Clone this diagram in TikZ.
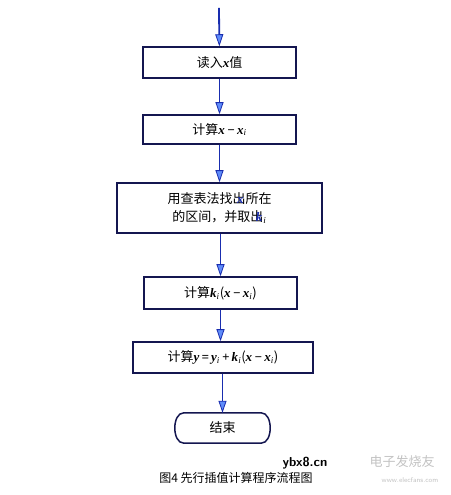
\documentclass[tikz,border=0pt]{standalone}
\usepackage{fontspec}
\usepackage{xcolor}
\setmainfont{Liberation Serif}
\newfontfamily\cjk{Noto Sans CJK SC}
\usetikzlibrary{arrows.meta}

\definecolor{lineColor}{RGB}{20,22,80}
\definecolor{arrowColor}{RGB}{25,45,175}
\definecolor{headColor}{RGB}{95,140,250}
\definecolor{markColor}{RGB}{195,195,195}

\newcommand{\bv}[1]{{\rmfamily\bfseries\itshape #1}}
\newcommand{\sbi}{\textsubscript{\rmfamily\itshape i}}

\begin{document}
\begin{tikzpicture}[x=1pt,y=1pt,
  box/.style={draw=lineColor,line width=1.5pt,inner sep=0pt,
    minimum height=31pt,align=center,font=\cjk\fontsize{13}{18}\selectfont},
  flow/.style={draw=arrowColor,line width=1.8pt,
    -{Triangle[length=12pt,width=8pt,fill=headColor,line width=0.8pt]}},
  ]
\path[use as bounding box,fill=white] (0,0) rectangle (450,495);

% steps
\coordinate (start) at (219,487);
\node[box,minimum width=153pt] (read) at (219.5,432.5) {读入\bv{x}值};
\node[box,minimum width=153pt,minimum height=29pt] (diff) at (219.5,365.5)
  {计算\bv{x}\,\bv{−}\,\bv{x}\sbi};
\node[box,minimum width=205pt,minimum height=50pt] (look) at (219.5,287)
  {用查表法找出\llap{\textcolor{arrowColor}{\bv{x}}\hspace{2pt}}所在\\
   的区间，并取出\llap{\textcolor{arrowColor}{\bv{k}}\hspace{1pt}}\sbi};
\node[box,minimum width=153pt,minimum height=32pt] (prod) at (220.5,202)
  {计算\bv{k}\sbi(\bv{x}\,\bv{−}\,\bv{x}\sbi)};
\node[box,minimum width=180pt] (sum) at (223,137.5)
  {计算\bv{y}\,\bv{=}\,\bv{y}\sbi\,\bv{+}\,\bv{k}\sbi(\bv{x}\,\bv{−}\,\bv{x}\sbi)};
\node[inner sep=0pt,minimum width=95pt,minimum height=30pt,
  font=\cjk\fontsize{13}{14}\selectfont] (stop) at (222.5,67) {结束};
\draw[lineColor,line width=1.5pt]
  ([xshift=9pt]stop.north west) -- ([xshift=-9pt]stop.north east)
  .. controls ([xshift=3pt]stop.north east) and ([xshift=3pt]stop.south east) ..
  ([xshift=-9pt]stop.south east) -- ([xshift=9pt]stop.south west)
  .. controls ([xshift=-3pt]stop.south west) and ([xshift=-3pt]stop.north west) ..
  cycle;

% connectors
\draw[flow] (start) -- (read);
\draw[flow] (read) -- (diff);
\draw[flow] (diff) -- (look);
\draw[flow] (look.south -| prod.north) -- (prod);
\draw[flow] (prod) -- (sum.north -| prod.south);
\draw[flow] (sum.south -| stop.north) -- (stop);

% caption and marks
\node[font=\bfseries\sffamily\fontsize{13}{13}\selectfont] (site) at (305,32) {ybx8.cn};
\node[font=\cjk\fontsize{12}{12}\selectfont] (title) at (236,17) {图4 先行插值计算程序流程图};
\node[text=markColor,font=\cjk\fontsize{13}{13}\selectfont] (logo) at (402,33) {电子发烧友};
\node[text=markColor,font=\sffamily\fontsize{7}{7}\selectfont] (web) at (410,15) {www.elecfans.com};
\end{tikzpicture}
\end{document}
